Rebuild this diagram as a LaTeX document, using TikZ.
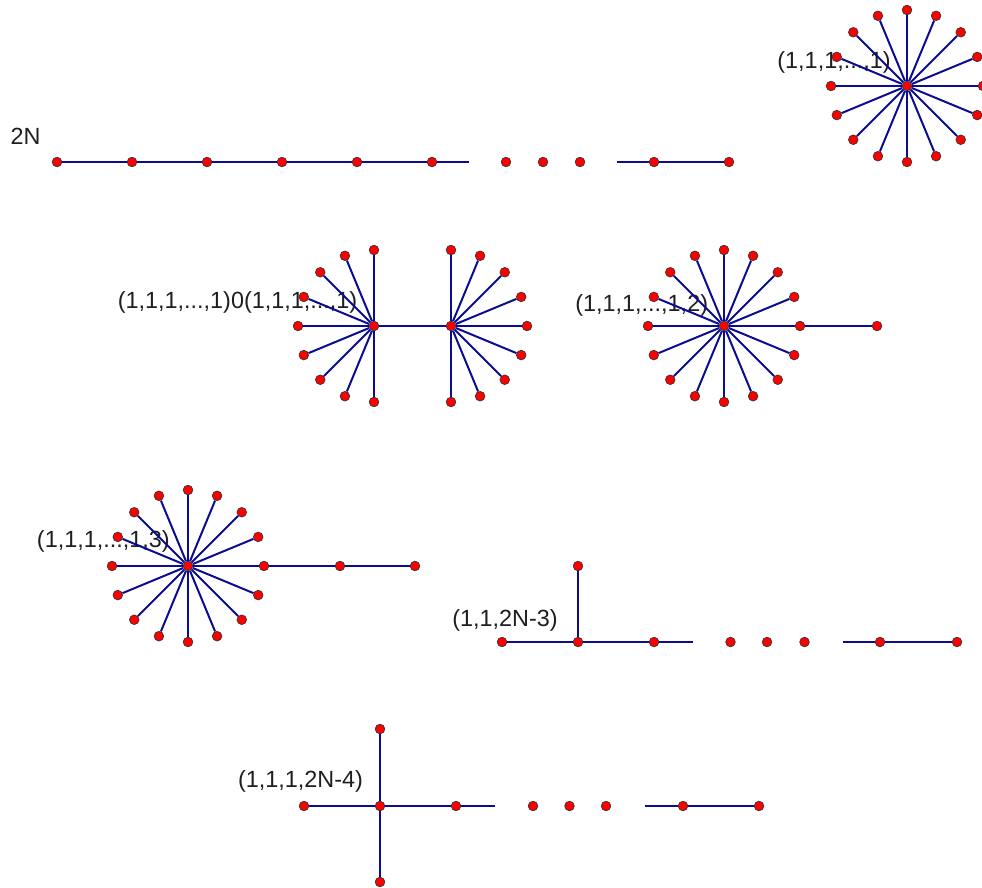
\documentclass[tikz,border=0pt]{standalone}
\usepackage{fontspec}
\setmainfont{Liberation Sans}
\definecolor{edgeblue}{RGB}{12,12,145}
\begin{document}
\begin{tikzpicture}[x=1pt,y=-1pt,
  vtx/.style={circle,fill=red,draw=black!80,line width=0.7pt,inner sep=0pt,minimum size=9.6pt},
  edge/.style={draw=edgeblue,line width=2pt},
  lbl/.style={font=\fontsize{23.4}{27}\selectfont,inner sep=0pt,text=black!88}]
\useasboundingbox (0,0) rectangle (982,887);

% ---------- labels ----------
\node[lbl] (t2n) at (25.5,136) {2N};
\node[lbl] (tA) at (834,62) {(1,1,1,...,1)};
\node[lbl] (tB) at (237.5,302) {(1,1,1,...,1)0(1,1,1,...,1)};
\node[lbl] (tC) at (641.7,305) {(1,1,1,...,1,2)};
\node[lbl] (tD) at (103.3,541) {(1,1,1,...,1,3)};
\node[lbl] (tE) at (505,620) {(1,1,2N-3)};
\node[lbl] (tF) at (300.5,781) {(1,1,1,2N-4)};

% ---------- path 2N ----------
\foreach \i/\x in {0/57,1/132,2/207,3/282,4/357,5/432,6/654,7/729}
  \node[vtx] (p\i) at (\x,162) {};
\foreach \i/\x in {1/506,2/543,3/580}
  \node[vtx] (pd\i) at (\x,162) {};
\coordinate (pe1) at (469,162);
\coordinate (pe2) at (617,162);
\foreach \a/\b in {0/1,1/2,2/3,3/4,4/5,6/7}
  \draw[edge] (p\a) -- (p\b);
\draw[edge] (p5) -- (pe1);
\draw[edge] (pe2) -- (p6);

% ---------- star (1,1,1,...,1) ----------
\node[vtx] (ac) at (907,86) {};
\foreach \i in {0,...,15}
  \node[vtx] (al\i) at ({907+76*cos(22.5*\i)},{86-76*sin(22.5*\i)}) {};
\foreach \i in {0,...,15}
  \draw[edge] (ac) -- (al\i);

% ---------- double star ----------
\node[vtx] (bc1) at (374,326) {};
\node[vtx] (bc2) at (451,326) {};
\foreach \i in {4,...,12}
  \node[vtx] (bl\i) at ({374+76*cos(22.5*\i)},{326-76*sin(22.5*\i)}) {};
\foreach \i in {-4,...,4}
  \node[vtx] (br\i) at ({451+76*cos(22.5*\i)},{326-76*sin(22.5*\i)}) {};
\foreach \i in {4,...,12}
  \draw[edge] (bc1) -- (bl\i);
\foreach \i in {-4,...,4}
  \draw[edge] (bc2) -- (br\i);
\draw[edge] (bc1) -- (bc2);

% ---------- star (1,...,1,2) ----------
\node[vtx] (cc) at (724,326) {};
\foreach \i in {0,...,15}
  \node[vtx] (cl\i) at ({724+76*cos(22.5*\i)},{326-76*sin(22.5*\i)}) {};
\node[vtx] (cx1) at (877,326) {};
\foreach \i in {0,...,15}
  \draw[edge] (cc) -- (cl\i);
\draw[edge] (cl0) -- (cx1);

% ---------- star (1,...,1,3) ----------
\node[vtx] (dc) at (188,566) {};
\foreach \i in {0,...,15}
  \node[vtx] (dl\i) at ({188+76*cos(22.5*\i)},{566-76*sin(22.5*\i)}) {};
\node[vtx] (dx1) at (340,566) {};
\node[vtx] (dx2) at (415,566) {};
\foreach \i in {0,...,15}
  \draw[edge] (dc) -- (dl\i);
\draw[edge] (dl0) -- (dx1);
\draw[edge] (dx1) -- (dx2);

% ---------- (1,1,2N-3) ----------
\foreach \i/\x in {0/502,1/578,2/654,3/880,4/957}
  \node[vtx] (e\i) at (\x,642) {};
\node[vtx] (etop) at (578,566) {};
\foreach \i/\x in {1/730.5,2/767,3/804.5}
  \node[vtx] (ed\i) at (\x,642) {};
\coordinate (ee1) at (692.5,642);
\coordinate (ee2) at (843,642);
\draw[edge] (e0) -- (e1);
\draw[edge] (e1) -- (e2);
\draw[edge] (e1) -- (etop);
\draw[edge] (e2) -- (ee1);
\draw[edge] (ee2) -- (e3);
\draw[edge] (e3) -- (e4);

% ---------- (1,1,1,2N-4) ----------
\foreach \i/\x in {0/304,1/380,2/456,3/683,4/759}
  \node[vtx] (f\i) at (\x,806) {};
\node[vtx] (ftop) at (380,729) {};
\node[vtx] (fbot) at (380,882) {};
\foreach \i/\x in {1/533,2/569.5,3/606}
  \node[vtx] (fd\i) at (\x,806) {};
\coordinate (fe1) at (495,806);
\coordinate (fe2) at (644.5,806);
\draw[edge] (f0) -- (f1);
\draw[edge] (f1) -- (f2);
\draw[edge] (f1) -- (ftop);
\draw[edge] (f1) -- (fbot);
\draw[edge] (f2) -- (fe1);
\draw[edge] (fe2) -- (f3);
\draw[edge] (f3) -- (f4);
\end{tikzpicture}
\end{document}
